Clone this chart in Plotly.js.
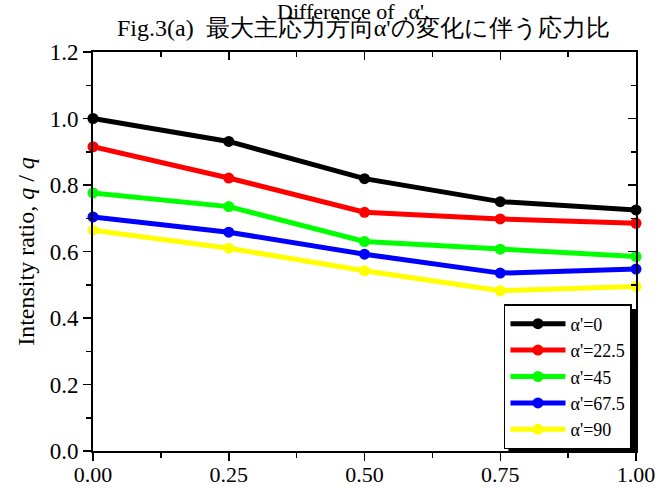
<!DOCTYPE html>
<html>
<head>
<meta charset="utf-8">
<script src="https://cdn.plot.ly/plotly-3.0.1.min.js"></script>
<style>html,body{margin:0;padding:0;background:#fff;}#chart{width:672px;height:488px;}</style>
</head>
<body>
<div id="chart"></div>
<script>
const xValues = [0, 0.25, 0.5, 0.75, 1.0];
const seriesNames = ["α'=0", "α'=22.5", "α'=45", "α'=67.5", "α'=90"];
const seriesColors = ["#000000", "#ff0000", "#00ff00", "#0000ff", "#ffff00"];
const alpha0 = [1.0, 0.931, 0.819, 0.750, 0.725];
const alpha22 = [0.915, 0.821, 0.718, 0.698, 0.685];
const alpha45 = [0.776, 0.735, 0.630, 0.607, 0.585];
const alpha67 = [0.704, 0.658, 0.592, 0.535, 0.547];
const alpha90 = [0.664, 0.610, 0.542, 0.482, 0.495];
const xTickVals = [0, 0.25, 0.5, 0.75, 1.0];
const xTickText = ["0.00", "0.25", "0.50", "0.75", "1.00"];
const yTickVals = [0, 0.2, 0.4, 0.6, 0.8, 1.0, 1.2];
const yTickText = ["0.0", "0.2", "0.4", "0.6", "0.8", "1.0", "1.2"];

const allSeries = [alpha0, alpha22, alpha45, alpha67, alpha90];
const serif = "Liberation Serif";

const traces = allSeries.map((ys, i) => ({
  x: xValues, y: ys, name: seriesNames[i], type: 'scatter', mode: 'lines+markers',
  line: {color: seriesColors[i], width: 5},
  marker: {color: seriesColors[i], size: 11},
  cliponaxis: false
}));
// invisible trace for the mirrored (inward-tick) top/right axes
traces.push({x: xValues, y: alpha0, xaxis: 'x2', yaxis: 'y2', mode: 'markers',
  marker: {opacity: 0}, showlegend: false, hoverinfo: 'skip'});

const axisCommon = {showgrid: false, zeroline: false, showline: true, linecolor: '#000', linewidth: 2,
  tickcolor: '#000', tickwidth: 1.5, ticklen: 8};

const layout = {
  width: 672, height: 488,
  margin: {l: 93, r: 36, t: 52, b: 37},
  paper_bgcolor: '#fff', plot_bgcolor: '#fff',
  font: {family: serif, color: '#000', size: 20},
  showlegend: true,
  legend: {x: 0.9926, y: 0.3684, xanchor: 'right', yanchor: 'top', bgcolor: '#fff',
    bordercolor: '#000', borderwidth: 1.5, font: {family: serif, size: 18, color: '#000'},
    itemwidth: 55, tracegroupgap: 0},
  xaxis: Object.assign({}, axisCommon, {range: [0, 1], ticks: 'outside', tickvals: xTickVals, ticktext: xTickText,
    minor: {ticks: 'outside', dtick: 0.125, tick0: 0, ticklen: 5, tickcolor: '#000', tickwidth: 1.5},
    ticklabelstandoff: -5,
    tickfont: {family: serif, size: 22, color: '#000'}}),
  yaxis: Object.assign({}, axisCommon, {range: [0, 1.2], ticks: 'outside', tickvals: yTickVals, ticktext: yTickText,
    minor: {ticks: 'outside', dtick: 0.1, tick0: 0, ticklen: 5, tickcolor: '#000', tickwidth: 1.5},
    tickfont: {family: serif, size: 23, color: '#000'},
    title: {text: 'Intensity ratio, <i>q</i> / <i>q</i>', font: {family: serif, size: 24, color: '#000'}, standoff: 8}}),
  xaxis2: Object.assign({}, axisCommon, {range: [0, 1], overlaying: 'x', side: 'top', anchor: 'y2', ticks: 'inside',
    tickvals: xTickVals, showticklabels: false,
    minor: {ticks: 'inside', dtick: 0.125, tick0: 0, ticklen: 5, tickcolor: '#000', tickwidth: 1.5}}),
  yaxis2: Object.assign({}, axisCommon, {range: [0, 1.2], overlaying: 'y', side: 'right', anchor: 'x2', ticks: 'inside',
    tickvals: yTickVals, showticklabels: false,
    minor: {ticks: 'inside', dtick: 0.1, tick0: 0, ticklen: 5, tickcolor: '#000', tickwidth: 1.5}}),
  annotations: [
    {text: "Fig.3(a)  最大主応力方向α'の変化に伴う応力比", xref: 'paper', yref: 'paper', x: 0.499, y: 1.0,
      xanchor: 'center', yanchor: 'bottom', yshift: 9, showarrow: false,
      font: {family: serif, size: 24, color: '#000'}},
    {text: "Difference of", xref: 'paper', yref: 'paper', x: 0.4475, y: 1.0,
      xanchor: 'center', yanchor: 'bottom', yshift: 26, showarrow: false,
      font: {family: serif, size: 22, color: '#000'}},
    {text: ",α'", xref: 'paper', yref: 'paper', x: 0.591, y: 1.0,
      xanchor: 'center', yanchor: 'bottom', yshift: 26, showarrow: false,
      font: {family: serif, size: 22, color: '#000'}}
  ],
  shapes: [
    {type: 'rect', xref: 'paper', yref: 'paper', layer: 'above',
      x0: 0.765, x1: 1.0037, y0: 0.3559, y1: 0.0, fillcolor: '#000', line: {width: 0}}
  ]
};

Plotly.newPlot('chart', traces, layout, {displayModeBar: false, staticPlot: true});
</script>
</body>
</html>
